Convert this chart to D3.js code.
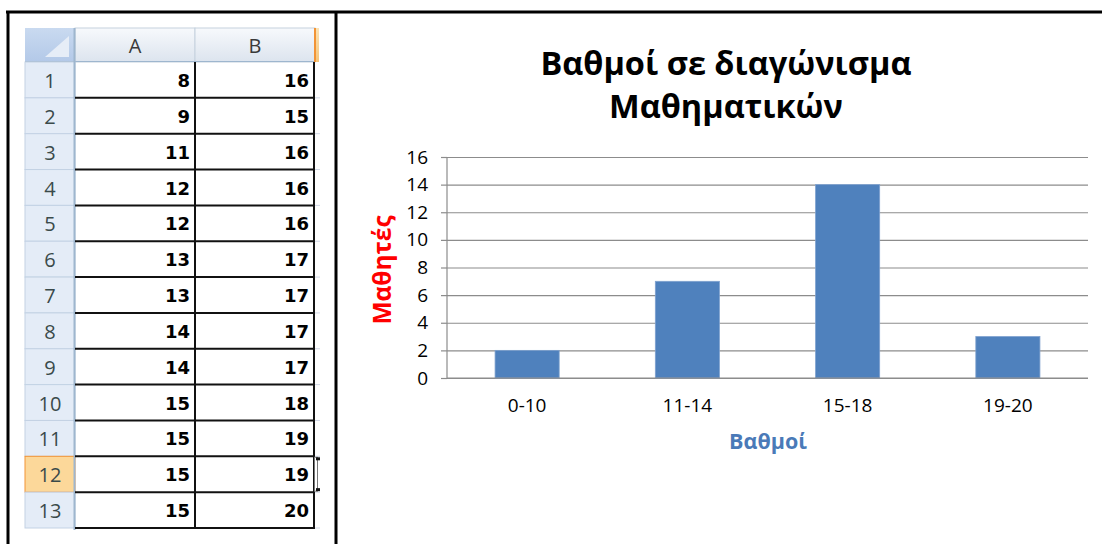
<!DOCTYPE html>
<html>
<head>
<meta charset="utf-8">
<script src="https://cdn.jsdelivr.net/npm/d3@7"></script>
<style>
  html, body { margin: 0; padding: 0; background: #ffffff; }
  svg { display: block; }
</style>
</head>
<body>
<svg id="chart" width="1102" height="544"></svg>
<script>
// ---------- data ----------
const columnLabels = ["A", "B"];
const rowNumbers = [1, 2, 3, 4, 5, 6, 7, 8, 9, 10, 11, 12, 13];
const colA = [8, 9, 11, 12, 12, 13, 13, 14, 14, 15, 15, 15, 15];
const colB = [16, 15, 16, 16, 16, 17, 17, 17, 17, 18, 19, 19, 20];
const selectedRow = 12;

const categories = ["0-10", "11-14", "15-18", "19-20"];
const counts = [2, 7, 14, 3];
const yTicks = [0, 2, 4, 6, 8, 10, 12, 14, 16];
const titleLines = ["Βαθμοί σε διαγώνισμα", "Μαθηματικών"];
const xTitle = "Βαθμοί";
const yTitle = "Μαθητές";

const svg = d3.select("#chart");
const chartFont = "'Open Sans', 'Noto Sans', sans-serif";

// ---------- frame ----------
svg.append("line").attr("x1", 6).attr("x2", 1102).attr("y1", 12).attr("y2", 12)
  .attr("stroke", "#000").attr("stroke-width", 3);
svg.append("line").attr("x1", 8).attr("x2", 8).attr("y1", 11).attr("y2", 544)
  .attr("stroke", "#000").attr("stroke-width", 3);
svg.append("line").attr("x1", 336).attr("x2", 336).attr("y1", 11).attr("y2", 544)
  .attr("stroke", "#000").attr("stroke-width", 3);

// ---------- spreadsheet ----------
const defs = svg.append("defs");
const g1 = defs.append("linearGradient").attr("id", "colHead").attr("x1", 0).attr("x2", 0).attr("y1", 0).attr("y2", 1);
g1.append("stop").attr("offset", "0%").attr("stop-color", "#f7f9fc");
g1.append("stop").attr("offset", "100%").attr("stop-color", "#dce4ee");
const g2 = defs.append("linearGradient").attr("id", "selHead").attr("x1", 0).attr("x2", 0).attr("y1", 0).attr("y2", 1);
g2.append("stop").attr("offset", "0%").attr("stop-color", "#fbe3b5");
g2.append("stop").attr("offset", "100%").attr("stop-color", "#f5c57a");
const g3 = defs.append("linearGradient").attr("id", "corner").attr("x1", 0).attr("x2", 0).attr("y1", 0).attr("y2", 1);
g3.append("stop").attr("offset", "0%").attr("stop-color", "#c9daf0");
g3.append("stop").attr("offset", "100%").attr("stop-color", "#b3c9e8");

const headTop = 28, headBottom = 62, gridBottom = 528;
const rowX0 = 25, colX = [75, 195, 314];

const rowY = d3.scaleBand().domain(rowNumbers).range([headBottom, gridBottom]);
const colScale = d3.scaleOrdinal().domain(columnLabels).range([colX[0], colX[1]]);
const colW = colX[1] - colX[0];

const sheet = svg.append("g");

// corner cell
sheet.append("rect").attr("x", rowX0).attr("y", headTop).attr("width", colX[0] - rowX0).attr("height", headBottom - headTop)
  .attr("fill", "url(#corner)");
sheet.append("path").attr("d", `M${colX[0] - 6},${headTop + 8} L${colX[0] - 6},${headBottom - 5} L${rowX0 + 20},${headBottom - 5} Z`)
  .attr("fill", "#e6edf7");

// column headers
sheet.selectAll(".colhead").data(columnLabels).join("rect")
  .attr("x", d => colScale(d)).attr("y", headTop).attr("width", colW).attr("height", headBottom - headTop)
  .attr("fill", "url(#colHead)").attr("stroke", "#c5d1de").attr("stroke-width", 1);
sheet.append("rect").attr("x", colX[2]).attr("y", headTop).attr("width", 5).attr("height", headBottom - headTop)
  .attr("fill", "url(#selHead)");
sheet.append("line").attr("x1", colX[2] + 1).attr("x2", colX[2] + 1).attr("y1", headTop).attr("y2", headBottom)
  .attr("stroke", "#f29436").attr("stroke-width", 2);
sheet.selectAll(".coltext").data(columnLabels).join("text")
  .attr("x", d => colScale(d) + colW / 2).attr("y", headTop + 25)
  .attr("text-anchor", "middle").attr("font-family", chartFont).attr("font-size", 20)
  .attr("fill", "#3a3a3a").text(d => d);
sheet.append("line").attr("x1", rowX0).attr("x2", colX[2]).attr("y1", headBottom - 0.5).attr("y2", headBottom - 0.5)
  .attr("stroke", "#9eb6ce").attr("stroke-width", 1);

// row headers
sheet.selectAll(".rowhead").data(rowNumbers).join("rect")
  .attr("x", rowX0).attr("y", d => rowY(d)).attr("width", colX[0] - rowX0).attr("height", rowY.bandwidth())
  .attr("fill", d => d === selectedRow ? "#fcd89a" : "#e4ecf7")
  .attr("stroke", d => d === selectedRow ? "#f29436" : "#c3d2e4").attr("stroke-width", 1);
sheet.append("line").attr("x1", colX[0] - 0.5).attr("x2", colX[0] - 0.5).attr("y1", headTop).attr("y2", gridBottom + 2)
  .attr("stroke", "#9eb6ce").attr("stroke-width", 2);
sheet.selectAll(".rowtext").data(rowNumbers).join("text")
  .attr("x", (rowX0 + colX[0]) / 2).attr("y", d => rowY(d) + 26)
  .attr("text-anchor", "middle").attr("font-family", chartFont).attr("font-size", 20)
  .attr("fill", "#3a4a4a").text(d => d);

// data grid lines
sheet.selectAll(".hline").data(rowNumbers).join("line")
  .attr("x1", colX[0]).attr("x2", colX[2]).attr("y1", d => rowY(d) + rowY.bandwidth()).attr("y2", d => rowY(d) + rowY.bandwidth())
  .attr("stroke", "#111").attr("stroke-width", 2);
sheet.selectAll(".hlineExt").data(rowNumbers).join("line")
  .attr("x1", colX[2]).attr("x2", colX[2] + 6).attr("y1", d => rowY(d) + rowY.bandwidth()).attr("y2", d => rowY(d) + rowY.bandwidth())
  .attr("stroke", "#d0d7e5").attr("stroke-width", 1);
[colX[1], colX[2]].forEach(x => {
  sheet.append("line").attr("x1", x).attr("x2", x).attr("y1", headBottom).attr("y2", gridBottom + 1)
    .attr("stroke", "#111").attr("stroke-width", 2);
});

// cell values
const cellFont = "'DejaVu Sans', Verdana, sans-serif";
sheet.selectAll(".valA").data(colA).join("text")
  .attr("x", colX[1] - 5).attr("y", (d, i) => rowY(rowNumbers[i]) + 25)
  .attr("text-anchor", "end").attr("font-family", cellFont).attr("font-weight", "bold").attr("font-size", 18)
  .attr("fill", "#000").text(d => d);
sheet.selectAll(".valB").data(colB).join("text")
  .attr("x", colX[2] - 5).attr("y", (d, i) => rowY(rowNumbers[i]) + 25)
  .attr("text-anchor", "end").attr("font-family", cellFont).attr("font-weight", "bold").attr("font-size", 18)
  .attr("fill", "#000").text(d => d);

// cursor I-beam on selected row
const cy0 = rowY(selectedRow), cy1 = cy0 + rowY.bandwidth();
sheet.append("rect").attr("x", colX[2] + 0.5).attr("y", cy0 + 1).attr("width", 3).attr("height", cy1 - cy0 - 2)
  .attr("fill", "#fff").attr("stroke", "#777").attr("stroke-width", 1);
sheet.append("rect").attr("x", colX[2] + 2).attr("y", cy0 + 1).attr("width", 4).attr("height", 3).attr("fill", "#111");
sheet.append("rect").attr("x", colX[2] + 2).attr("y", cy1 - 4).attr("width", 4).attr("height", 3).attr("fill", "#111");

// ---------- chart ----------
const plot = { left: 447, right: 1088, top: 157, bottom: 378 };
const x = d3.scaleBand().domain(categories).range([plot.left, plot.right]).paddingInner(0.6).paddingOuter(0.3);
const y = d3.scaleLinear().domain([0, 16]).range([plot.bottom, plot.top]);

const chart = svg.append("g");

// gridlines + ticks
chart.append("g")
  .attr("transform", `translate(${plot.left},0)`)
  .call(d3.axisLeft(y).tickValues(yTicks).tickSize(-(plot.right - plot.left)).tickFormat(""))
  .call(g => g.select(".domain").remove())
  .call(g => g.selectAll("line").attr("stroke", "#8c8c8c").attr("stroke-width", 1.2));
const yAxis = chart.append("g")
  .attr("transform", `translate(${plot.left},0)`)
  .call(d3.axisLeft(y).tickValues(yTicks).tickSize(6).tickPadding(13));
yAxis.select(".domain").attr("stroke", "#8c8c8c").attr("stroke-width", 1.2).attr("d", `M0,${plot.top}V${plot.bottom}`);
yAxis.selectAll("line").attr("stroke", "#8c8c8c").attr("stroke-width", 1.2);
yAxis.selectAll("text").attr("font-family", chartFont).attr("font-size", 19).attr("fill", "#000");

// bars
chart.selectAll(".bar").data(counts).join("rect")
  .attr("x", (d, i) => x(categories[i]))
  .attr("y", d => y(d))
  .attr("width", x.bandwidth())
  .attr("height", d => y(0) - y(d))
  .attr("fill", "#4f81bd")
  .attr("stroke", "#7ea1cf").attr("stroke-width", 0.8);

// x axis
const xAxis = chart.append("g")
  .attr("transform", `translate(0,${plot.bottom})`)
  .call(d3.axisBottom(x).tickSize(0).tickPadding(21));
xAxis.select(".domain").attr("stroke", "#8c8c8c").attr("stroke-width", 1.2).attr("d", `M${plot.left},0H${plot.right}`);
xAxis.selectAll("text").attr("font-family", chartFont).attr("font-size", 19).attr("fill", "#000");

// titles
chart.selectAll(".title").data(titleLines).join("text")
  .attr("x", 726).attr("y", (d, i) => 75 + i * 43)
  .attr("text-anchor", "middle").attr("font-family", chartFont).attr("font-weight", "bold")
  .attr("font-size", 32.5).attr("fill", "#000").text(d => d);

chart.append("text")
  .attr("x", 768).attr("y", 449)
  .attr("text-anchor", "middle").attr("font-family", chartFont).attr("font-weight", "bold")
  .attr("font-size", 21.5).attr("fill", "#4a7ab8").text(xTitle);

chart.append("text")
  .attr("transform", "translate(391,270) rotate(-90)")
  .attr("text-anchor", "middle").attr("font-family", chartFont).attr("font-weight", "bold")
  .attr("font-size", 24.5).attr("fill", "#ff0000").text(yTitle);
</script>
</body>
</html>
